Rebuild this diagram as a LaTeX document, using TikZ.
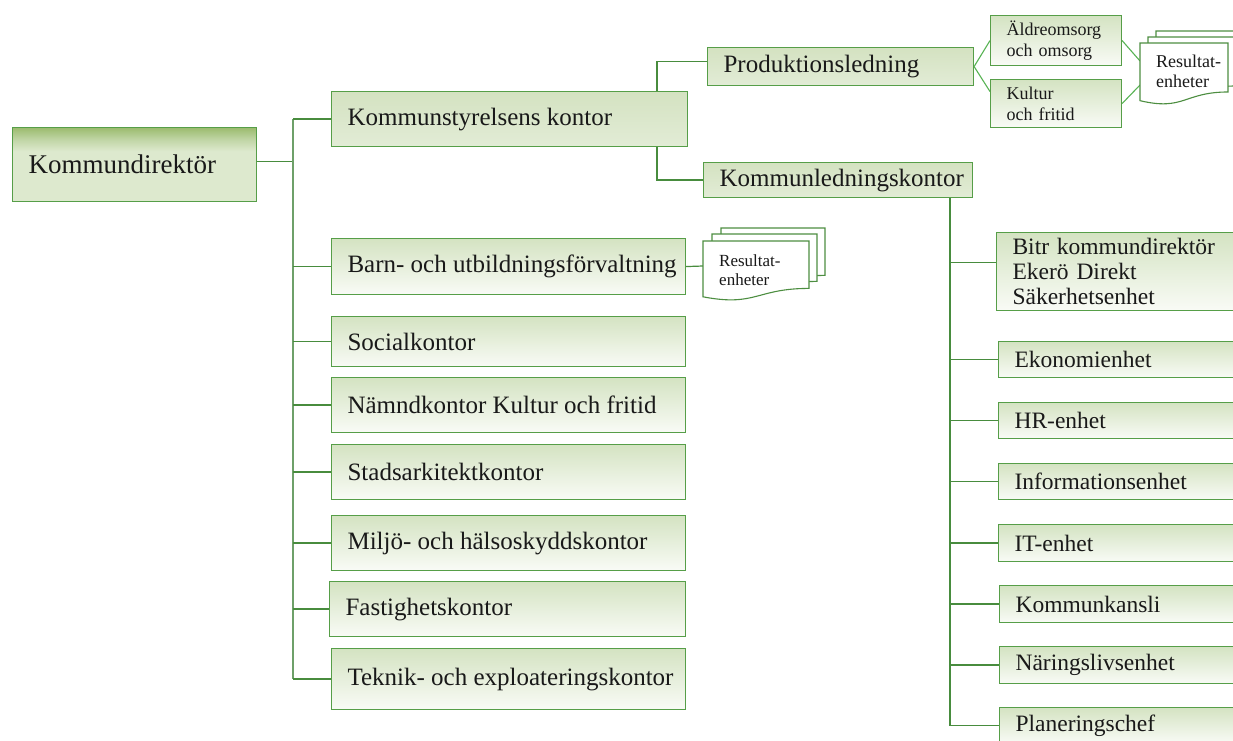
\documentclass[tikz,border=0pt]{standalone}
\usepackage{fontspec}
\setmainfont{Liberation Serif}
\usetikzlibrary{calc}
\definecolor{boxborder}{RGB}{86,158,72}
\definecolor{connc}{RGB}{72,140,62}
\definecolor{trunkc}{RGB}{110,160,105}
\definecolor{gtop}{RGB}{212,227,194}
\definecolor{gbot}{RGB}{249,251,246}
\definecolor{ktop}{RGB}{212,226,193}
\definecolor{kbot}{RGB}{226,236,214}
\definecolor{kddark}{RGB}{155,187,110}
\definecolor{kdmid}{RGB}{192,213,165}
\definecolor{kdlight}{RGB}{221,233,206}
\definecolor{txt}{RGB}{25,25,25}
\pgfdeclareverticalshading{kdshade}{100bp}{color(0bp)=(kdlight); color(50bp)=(kdlight); color(59bp)=(kdlight); color(67bp)=(kdmid); color(75bp)=(kddark); color(100bp)=(kddark)}
\pgfdeclarelayer{back}
\pgfdeclarelayer{lines}
\pgfsetlayers{back,lines,main}
\newcommand{\bx}[2]{\makebox[#1][l]{#2}}
\newcommand{\mydoc}[4]{\filldraw[docline] (#1,#2) -- ({#1+#3},#2) -- ({#1+#3},{#2+0.79*#4}) .. controls ({#1+0.5*#3},{#2+0.79*#4}) and ({#1+0.5*#3},{#2+1.1*#4}) .. (#1,{#2+0.93*#4}) -- cycle;}
\begin{document}
\begin{tikzpicture}[x=1pt,y=-1pt,
  box/.style={draw=boxborder, line width=1.1pt, inner xsep=16pt, inner ysep=0pt, anchor=north west, text=txt, align=left},
  lbox/.style={box, top color=gtop, bottom color=gbot, font=\fontsize{25}{28}\selectfont},
  kbox/.style={box, top color=ktop, bottom color=kbot, font=\fontsize{25}{28}\selectfont},
  rbox/.style={box, top color=gtop, bottom color=gbot, font=\fontsize{23.5}{25}\selectfont},
  sbox/.style={box, top color=gtop, bottom color=gbot, font=\fontsize{18}{21}\selectfont},
  conn/.style={draw=connc, line width=1.2pt},
  trunkline/.style={draw=trunkc, line width=1.6pt},
  diag/.style={draw=trunkc!80!green, line width=1.1pt},
  docline/.style={draw=boxborder!90!black, line width=1.1pt, fill=white},
  doctext/.style={inner sep=0pt, anchor=west, align=left, text=txt, font=\fontsize{17}{19}\selectfont}]
\useasboundingbox (0,0) rectangle (1233,740);
\begin{pgfonlayer}{back}
\fill[white] (0,0) rectangle (1233,740);
\end{pgfonlayer}
\clip (0,0) rectangle (1233,740);

% root
\node[box, shade, shading=kdshade, font=\fontsize{27}{30}\selectfont, minimum height=74pt] (kd) at (12,127) {\bx{212pt}{Kommundirektör}};

% left column
\node[kbox, minimum height=55pt] (ks) at (331,91) {\bx{324pt}{Kommunstyrelsens kontor}};
\node[lbox, minimum height=56pt] (barn) at (331,238) {\bx{322pt}{Barn- och utbildningsförvaltning}};
\node[lbox, minimum height=50pt] (soc) at (331,316) {\bx{322pt}{Socialkontor}};
\node[lbox, minimum height=55pt] (namnd) at (331,377) {\bx{322pt}{Nämndkontor Kultur och fritid}};
\node[lbox, minimum height=55pt] (stad) at (331,444) {\bx{322pt}{Stadsarkitektkontor}};
\node[lbox, minimum height=55pt] (miljo) at (331,515) {\bx{322pt}{Miljö- och hälsoskyddskontor}};
\node[lbox, minimum height=55pt] (fast) at (329,581) {\bx{324pt}{Fastighetskontor}};
\node[lbox, minimum height=61pt] (teknik) at (331,648) {\bx{322pt}{Teknik- och exploateringskontor}};

% second level
\node[kbox, minimum height=38pt] (pl) at (707,47) {\bx{234pt}{Produktionsledning}};
\node[kbox, minimum height=35pt] (kl) at (703,162) {\bx{237pt}{Kommunledningskontor}};

% third level (production)
\node[sbox, minimum height=50pt, text width=99pt] (aldre) at (990,15) {Äldreomsorg\\och omsorg};
\node[sbox, minimum height=48pt, text width=99pt] (kultur) at (990,79) {Kultur\\och fritid};

% right column
\node[rbox, minimum height=78pt, text width=230pt] (bitr) at (996,232) {Bitr kommundirektör\\Ekerö Direkt\\Säkerhetsenhet};
\node[rbox, minimum height=36pt] (ekon) at (998,341) {\bx{230pt}{Ekonomienhet}};
\node[rbox, minimum height=36pt] (hr) at (998,402) {\bx{230pt}{HR-enhet}};
\node[rbox, minimum height=36pt] (info) at (998,463) {\bx{230pt}{Informationsenhet}};
\node[rbox, minimum height=37pt] (it) at (998,524) {\bx{230pt}{IT-enhet}};
\node[rbox, minimum height=37pt] (kansli) at (999,585) {\bx{230pt}{Kommunkansli}};
\node[rbox, minimum height=37pt] (nar) at (999,646) {\bx{230pt}{Näringslivsenhet}};
\node[rbox, minimum height=36pt] (plan) at (999,707) {\bx{230pt}{Planeringschef}};

% document stacks
\mydoc{1156}{31}{88}{62}
\mydoc{1148}{37}{88}{62}
\mydoc{1140}{43}{88}{62}
\node[doctext, font=\fontsize{18}{20}\selectfont] (res1) at (1156,71) {Resultat-\\enheter};
\mydoc{721}{228}{104}{60}
\mydoc{712}{234}{105}{60}
\mydoc{703}{241}{106}{60}
\node[doctext] (res2) at (719,270) {Resultat-\\enheter};
\coordinate (d1a) at (1140,61);
\coordinate (d1b) at (1140,85);
\coordinate (d2) at (703,266);

% connectors
\coordinate (trunk) at (293,117);
\coordinate (ksb) at (657,118);
\coordinate (klb) at (950,197);
\begin{pgfonlayer}{lines}
\draw[conn] ([yshift=3pt]kd.east) -- ([yshift=3pt]kd.east -| trunk);
\draw[trunkline] (trunk |- ks.west) -- (trunk |- teknik.west);
\foreach \n in {ks,barn,soc,namnd,stad,miljo,fast,teknik}
  \draw[conn] (\n.west) -- (\n.west -| trunk);
\draw[conn] ([yshift=5pt]pl.west) -| (ksb);
\draw[conn] (kl.west) -| (ksb);
\draw[diag] (pl.east) -- (aldre.west);
\draw[diag] (pl.east) -- ([yshift=12pt]kultur.west);
\draw[diag] (aldre.east) -- (d1a);
\draw[diag] (kultur.east) -- (d1b);
\draw[conn] (barn.east) -- (d2);
\draw[conn, line width=1.3pt] (klb |- kl.south) -- (klb |- plan.west) -- (plan.west);
\draw[conn] ([yshift=9pt]bitr.west) -- ([yshift=9pt]bitr.west -| klb);
\foreach \n in {ekon,hr,info,it,kansli,nar}
  \draw[conn] (\n.west) -- (\n.west -| klb);
\end{pgfonlayer}
\end{tikzpicture}
\end{document}
